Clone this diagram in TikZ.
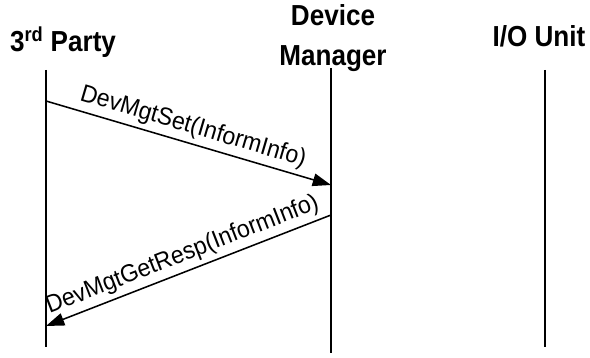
\documentclass[tikz,border=0pt]{standalone}
\usepackage{fontspec}
\setmainfont{Liberation Sans}
\newfontfamily\headfont[FakeStretch=0.9]{Liberation Sans}
\newfontfamily\msgfont[FakeStretch=0.94]{Liberation Sans}
\usetikzlibrary{arrows.meta}
\begin{document}
\begin{tikzpicture}[
  lifeline/.style={line width=1.6pt},
  msg/.style={line width=1.1pt, -{Triangle[length=13pt,width=9pt]}},
  head/.style={font=\headfont\bfseries\fontsize{20.6}{28.5}\selectfont, align=center, inner sep=0pt},
  msglabel/.style={font=\msgfont\fontsize{17.5}{20}\selectfont, midway, above, sloped, inner sep=3pt}
]
  \useasboundingbox (0,0) rectangle (14.75,8.95);
  % Titles
  \node[head] (party) at (1.575,7.9) {3\textsuperscript{rd} Party};
  \node[head] (manager) at (8.325,8.0) {Device\\Manager};
  \node[head] (unit) at (13.475,8.05) {I/O Unit};
  % Lifelines
  \coordinate (partytop) at (1.15,7.2);
  \coordinate (partybot) at (1.15,0.275);
  \coordinate (managertop) at (8.275,7.25);
  \coordinate (managerbot) at (8.275,0.125);
  \coordinate (unittop) at (13.625,7.2);
  \coordinate (unitbot) at (13.625,0.275);
  \draw[lifeline] (partytop) -- (partybot);
  \draw[lifeline] (managertop) -- (managerbot);
  \draw[lifeline] (unittop) -- (unitbot);
  % Messages
  \coordinate (setfrom) at (1.15,6.425);
  \coordinate (setto) at (8.275,4.325);
  \coordinate (respfrom) at (8.275,3.575);
  \coordinate (respto) at (1.15,0.8);
  \draw[msg] (setfrom) -- (setto) node[msglabel] {DevMgtSet(InformInfo)};
  \draw[msg] (respfrom) -- (respto) node[msglabel] {DevMgtGetResp(InformInfo)};
\end{tikzpicture}
\end{document}
